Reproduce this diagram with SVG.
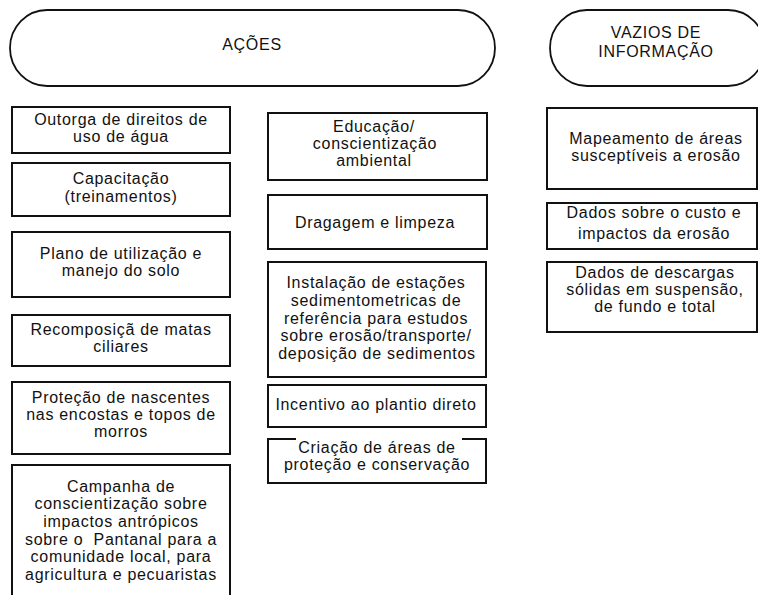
<svg xmlns="http://www.w3.org/2000/svg" width="758" height="595" viewBox="0 0 758 595">
<style>
.box{fill:#fff;stroke:#111;stroke-width:2}
.pill{fill:#fff;stroke:#111;stroke-width:1.8}
text{font-family:"Liberation Sans",Arial,sans-serif;font-size:16px;fill:#111;text-anchor:middle;letter-spacing:0.7px}
</style>
<rect width="758" height="595" fill="#fff"/>
<g id="acoes">
<rect class="pill" x="10" y="10" width="485" height="76" rx="37" ry="38"/>
<text x="252" y="50">AÇÕES</text>
</g>
<g id="vazios">
<rect class="pill" x="550" y="10" width="215" height="76" rx="37" ry="38"/>
<text x="656" y="38">VAZIOS DE</text>
<text x="656" y="57">INFORMAÇÃO</text>
</g>
<g id="outorga">
<rect class="box" x="12" y="107" width="218" height="46"/>
<text x="121" y="125">Outorga de direitos de</text>
<text x="121" y="142">uso de água</text>
</g>
<g id="capacitacao">
<rect class="box" x="12" y="163" width="218" height="53"/>
<text x="121" y="184">Capacitação</text>
<text x="121" y="202">(treinamentos)</text>
</g>
<g id="plano">
<rect class="box" x="12" y="232" width="218" height="65"/>
<text x="121" y="259">Plano de utilização e</text>
<text x="121" y="276">manejo do solo</text>
</g>
<g id="recomposicao">
<rect class="box" x="12" y="315" width="218" height="51"/>
<text x="121" y="335">Recomposiçã de matas</text>
<text x="121" y="352">ciliares</text>
</g>
<g id="protecao">
<rect class="box" x="12" y="382" width="218" height="72"/>
<text x="121" y="403">Proteção de nascentes</text>
<text x="121" y="420">nas encostas e topos de</text>
<text x="121" y="437">morros</text>
</g>
<g id="campanha">
<rect class="box" x="12" y="465" width="218" height="140"/>
<text x="121" y="492">Campanha de</text>
<text x="121" y="509">conscientização sobre</text>
<text x="121" y="527">impactos antrópicos</text>
<text x="121" y="545">sobre o&#160; Pantanal para a</text>
<text x="121" y="562">comunidade local, para</text>
<text x="121" y="580">agricultura e pecuaristas</text>
</g>
<g id="educacao">
<rect class="box" x="268" y="113" width="219" height="67"/>
<text x="374" y="132">Educação/</text>
<text x="375" y="149">conscientização</text>
<text x="374" y="166">ambiental</text>
</g>
<g id="dragagem">
<rect class="box" x="268" y="195" width="219" height="54"/>
<text x="375" y="228">Dragagem e limpeza</text>
</g>
<g id="instalacao">
<rect class="box" x="268" y="262" width="218" height="115"/>
<text x="376" y="288">Instalação de estações</text>
<text x="376" y="306">sedimentometricas de</text>
<text x="376" y="324">referência para estudos</text>
<text x="376" y="341">sobre erosão/transporte/</text>
<text x="377" y="359">deposição de sedimentos</text>
</g>
<g id="incentivo">
<rect class="box" x="268" y="385" width="218" height="42"/>
<text x="376" y="410">Incentivo ao plantio direto</text>
</g>
<g id="criacao">
<rect class="box" x="268" y="439" width="218" height="44"/>
<rect x="296" y="436" width="166" height="6" fill="#fff"/>
<text x="377" y="453">Criação de áreas de</text>
<text x="377" y="470">proteção e conservação</text>
</g>
<g id="mapeamento">
<rect class="box" x="547" y="108" width="210" height="81"/>
<text x="656" y="144">Mapeamento de áreas</text>
<text x="656" y="161">susceptíveis a erosão</text>
</g>
<g id="custo">
<rect class="box" x="547" y="203" width="210" height="46"/>
<text x="654" y="218">Dados sobre o custo e</text>
<text x="654" y="239">impactos da erosão</text>
</g>
<g id="descargas">
<rect class="box" x="547" y="262" width="210" height="70"/>
<text x="655" y="278">Dados de descargas</text>
<text x="655" y="295">sólidas em suspensão,</text>
<text x="655" y="312">de fundo e total</text>
</g>
<g id="connectors"></g>
</svg>
